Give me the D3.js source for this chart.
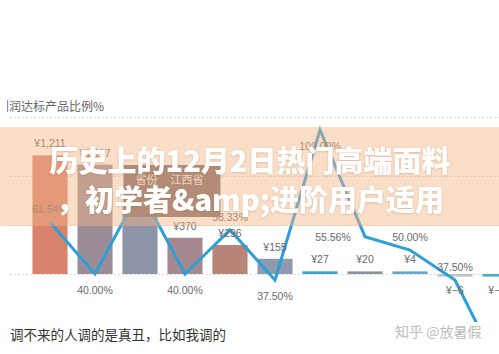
<!DOCTYPE html>
<html><head><meta charset="utf-8">
<script src="https://cdn.jsdelivr.net/npm/d3@7"></script>
<style>
html,body{margin:0;padding:0;background:#fff;overflow:hidden;}
svg{display:block;}
</style></head>
<body>
<svg id="c" width="499" height="354"></svg>
<script>
// ---- data ----
const categories = ["1","2","江西省","4","5","6","7","8","9","10","11"];
const amounts = [1211, 1117, 680, 370, 296, 155, 27, 20, 4, -6, -13];
const ratios = [61.54, 40.00, 75.00, 40.00, 58.33, 37.50, 100.00, 55.56, 50.00, 37.50, 0.00];
const ratioLabelSide = ["above","below","above","below","above","below","below","left","above","above","below"];
const gridValues = [0, 500, 1000, 1600];
const subtitle = "利润达标产品比例%";
const titleLines = ["历史上的12月2日热门高端面料", "，初学者&amp;进阶用户适用"];
const tooltipRow = ["省份", "江西省"];
const footText = "调不来的人调的是真丑，比如我调的";
const watermark = "知乎 @放暑假";

// ---- styles ----
const barColors = ["#d9826d","#9c8c98","#8e95a8","#a5898e","#b98478","#8f99b0","#38a0d6","#8a909c","#62a8cc","#bfc2c8","#4aaad8"];
const lineColor = "#2c9fd8";
const latin = "'Liberation Sans', Arial, 'Noto Sans CJK SC', sans-serif";
const cjk = "'Noto Sans CJK SC', 'Noto Sans', sans-serif";

const svg = d3.select("#c");
const W = 499;

const x = d3.scaleBand().domain(categories).range([27.5, 522.5]).paddingInner(0.22).paddingOuter(0.11);
const y = d3.scaleLinear().domain([0, 1600]).range([274, 117.2]);
const yp = d3.scaleLinear().domain([40, 100]).range([274, 130]);

const defs = svg.append("defs");
defs.append("clipPath").attr("id","plot").append("rect").attr("x",0).attr("y",0).attr("width",W).attr("height",322);
defs.append("clipPath").attr("id","sub").append("rect").attr("x",7).attr("y",0).attr("width",W).attr("height",354);
const f = defs.append("filter").attr("id","ts").attr("x","-5%").attr("y","-20%").attr("width","110%").attr("height","140%");
f.append("feDropShadow").attr("dx",0).attr("dy",0.6).attr("stdDeviation",0.8).attr("flood-color","#a06a40").attr("flood-opacity",0.35);

// subtitle
svg.append("text").attr("clip-path","url(#sub)")
  .attr("x",-3).attr("y",111).attr("font-family",cjk).attr("font-size",12)
  .attr("fill","#666").text(subtitle);

// gridlines
svg.append("g").selectAll("line").data(gridValues).join("line")
  .attr("x1",10).attr("x2",W).attr("y1",d=>Math.round(y(d))+0.5).attr("y2",d=>Math.round(y(d))+0.5)
  .attr("stroke","#cfcfcf").attr("stroke-width",1).attr("stroke-dasharray","1.5,2.5");

const plot = svg.append("g").attr("clip-path","url(#plot)");

// bars
const minH = 2.6;
plot.append("g").selectAll("rect").data(amounts).join("rect")
  .attr("x",(d,i)=>x(categories[i]))
  .attr("width",x.bandwidth())
  .attr("y",d=> d>=0 ? Math.min(y(d), y(0)-minH) : y(0))
  .attr("height",d=> Math.max(Math.abs(y(d)-y(0)), minH))
  .attr("fill",(d,i)=>barColors[i]);

// line
const line = d3.line().x((d,i)=>x(categories[i])+x.bandwidth()/2).y(d=>yp(d));
plot.append("path").datum(ratios).attr("d",line)
  .attr("fill","none").attr("stroke",lineColor).attr("stroke-width",3).attr("stroke-linejoin","miter");

// bar labels
const fmt = d3.format(",");
svg.append("g").selectAll("text").data(amounts).join("text")
  .attr("x",(d,i)=>x(categories[i])+x.bandwidth()/2)
  .attr("y",d=> d>=0 ? Math.min(y(d), y(0)-minH) - 12 : y(0) + 16)
  .attr("text-anchor","middle").attr("dominant-baseline","central")
  .attr("font-family",latin).attr("font-size",10.5).attr("fill","#6a6a6a")
  .text(d=>"¥" + fmt(d));

// ratio labels
svg.append("g").selectAll("text").data(ratios).join("text")
  .attr("x",(d,i)=>x(categories[i])+x.bandwidth()/2 + (ratioLabelSide[i]==="left" ? -32 : 0))
  .attr("y",(d,i)=> ratioLabelSide[i]==="above" ? yp(d)-13 : ratioLabelSide[i]==="below" ? yp(d)+16 : yp(d))
  .attr("text-anchor","middle").attr("dominant-baseline","central")
  .attr("font-family",latin).attr("font-size",10.5).attr("fill","#6a6a6a")
  .text(d=>d.toFixed(2)+"%");

// tooltip box
const tx = x(categories[2]) + 1;
svg.append("rect").attr("x",tx).attr("y",165).attr("width",97).attr("height",52).attr("fill","#7d6b6b");
svg.append("text").attr("x",tx+12).attr("y",184).attr("font-family",cjk).attr("font-size",11).attr("fill","#f3ece8").text(tooltipRow[0]);
svg.append("text").attr("x",tx+47).attr("y",184).attr("font-family",cjk).attr("font-size",11).attr("fill","#f3ece8").text(tooltipRow[1]);

// peach banner overlay
svg.append("rect").attr("x",0).attr("y",127).attr("width",W).attr("height",99)
  .attr("fill","rgb(244,182,133)").attr("fill-opacity",0.45);

// title
svg.append("g").selectAll("text").data(titleLines).join("text")
  .attr("x",250).attr("y",(d,i)=>159 + i*39)
  .attr("text-anchor","middle").attr("dominant-baseline","central")
  .attr("font-family",cjk).attr("font-weight",900).attr("font-size",29)
  .attr("fill","#fff").attr("filter","url(#ts)")
  .text(d=>d);

// footer text
svg.append("text").attr("x",10).attr("y",340).attr("font-family",cjk).attr("font-size",13.5)
  .attr("fill","#333").text(footText);
svg.append("text").attr("x",395).attr("y",337).attr("font-family",cjk).attr("font-size",14)
  .attr("fill","#bdbdbd").text(watermark);
</script>
</body></html>
